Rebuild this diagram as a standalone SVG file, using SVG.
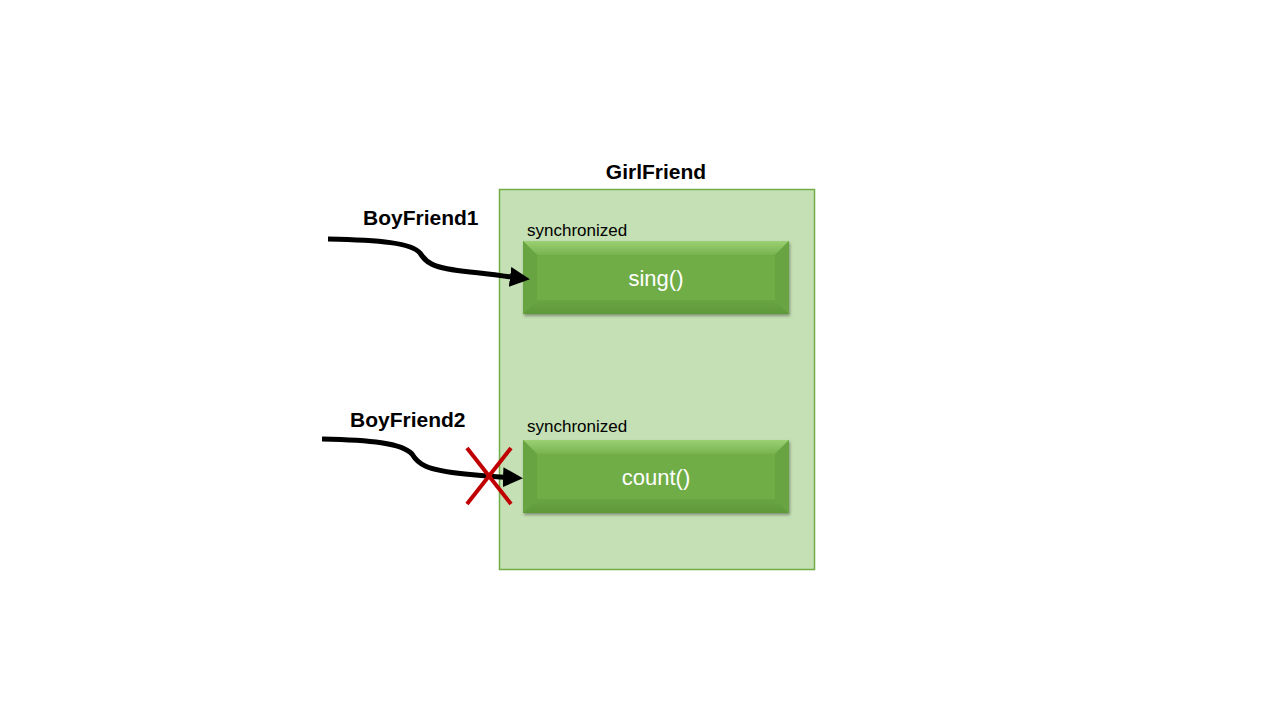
<svg xmlns="http://www.w3.org/2000/svg" width="1280" height="720" viewBox="0 0 1280 720">
<style>
.title{font-family:"Liberation Sans",Arial,sans-serif;font-weight:bold;font-size:21px;fill:#000}
.sync{font-family:"Liberation Sans",Arial,sans-serif;font-size:17px;fill:#000}
.meth{font-family:"Liberation Sans",Arial,sans-serif;font-size:22px;fill:#fff;text-anchor:middle}
.conn{fill:none;stroke:#000;stroke-width:5}
</style>
<defs>
<marker id="ah" markerWidth="4" markerHeight="4" refX="1" refY="2" orient="auto" markerUnits="strokeWidth">
<path d="M0,0 L4,2 L0,4 Z" fill="#000"/>
</marker>
<linearGradient id="topg" x1="0" y1="0" x2="0" y2="1">
<stop offset="0" stop-color="#9bd073"/><stop offset="1" stop-color="#78b34f"/>
</linearGradient>
<linearGradient id="botg" x1="0" y1="0" x2="0" y2="1">
<stop offset="0" stop-color="#6aa543"/><stop offset="1" stop-color="#5e9839"/>
</linearGradient>
<filter id="sh" x="-10%" y="-10%" width="120%" height="130%">
<feDropShadow dx="1" dy="2" stdDeviation="1.5" flood-color="#000" flood-opacity="0.35"/>
</filter>
</defs>
<rect width="1280" height="720" fill="#fff"/>
<g id="girlfriend">
<rect x="499.5" y="189.5" width="315" height="380" fill="#c5e0b4" stroke="#70ad47" stroke-width="1.5"/>
<text class="title" x="656" y="179" text-anchor="middle">GirlFriend</text>
</g>
<g id="sing">
<text class="sync" x="527" y="236">synchronized</text>
<g filter="url(#sh)">
<rect x="523" y="241" width="266" height="73" fill="#70ad47"/>
</g>
<polygon points="523,241 789,241 775,255 537,255" fill="url(#topg)"/>
<polygon points="523,241 537,255 537,300 523,314" fill="#69a442"/>
<polygon points="789,241 775,255 775,300 789,314" fill="#69a442"/>
<polygon points="523,314 537,300 775,300 789,314" fill="url(#botg)"/>
<text class="meth" x="656" y="286">sing()</text>
</g>
<g id="count">
<text class="sync" x="527" y="432">synchronized</text>
<g filter="url(#sh)">
<rect x="523" y="440" width="266" height="73" fill="#70ad47"/>
</g>
<polygon points="523,440 789,440 775,454 537,454" fill="url(#topg)"/>
<polygon points="523,440 537,454 537,499 523,513" fill="#69a442"/>
<polygon points="789,440 775,454 775,499 789,513" fill="#69a442"/>
<polygon points="523,513 537,499 775,499 789,513" fill="url(#botg)"/>
<text class="meth" x="656" y="485">count()</text>
</g>
<g id="boyfriend1">
<text class="title" x="363" y="225">BoyFriend1</text>
</g>
<g id="boyfriend2">
<text class="title" x="350" y="427">BoyFriend2</text>
</g>
<g id="connectors">
<path class="conn" d="M328,239 C380,240 412,243 420,253 C426,262 430,268 470,272 C490,274 503,276 515,277.5" marker-end="url(#ah)"/>
<path class="conn" d="M322,439 C370,440 402,443 412,454 C418,464 425,470 465,474 C485,476 497,477 508,477.5" marker-end="url(#ah)"/>
</g>
<g id="blocked">
<line x1="467" y1="448" x2="511" y2="504" stroke="#c00000" stroke-width="4"/>
<line x1="511" y1="448" x2="467" y2="504" stroke="#c00000" stroke-width="4"/>
</g>
</svg>
